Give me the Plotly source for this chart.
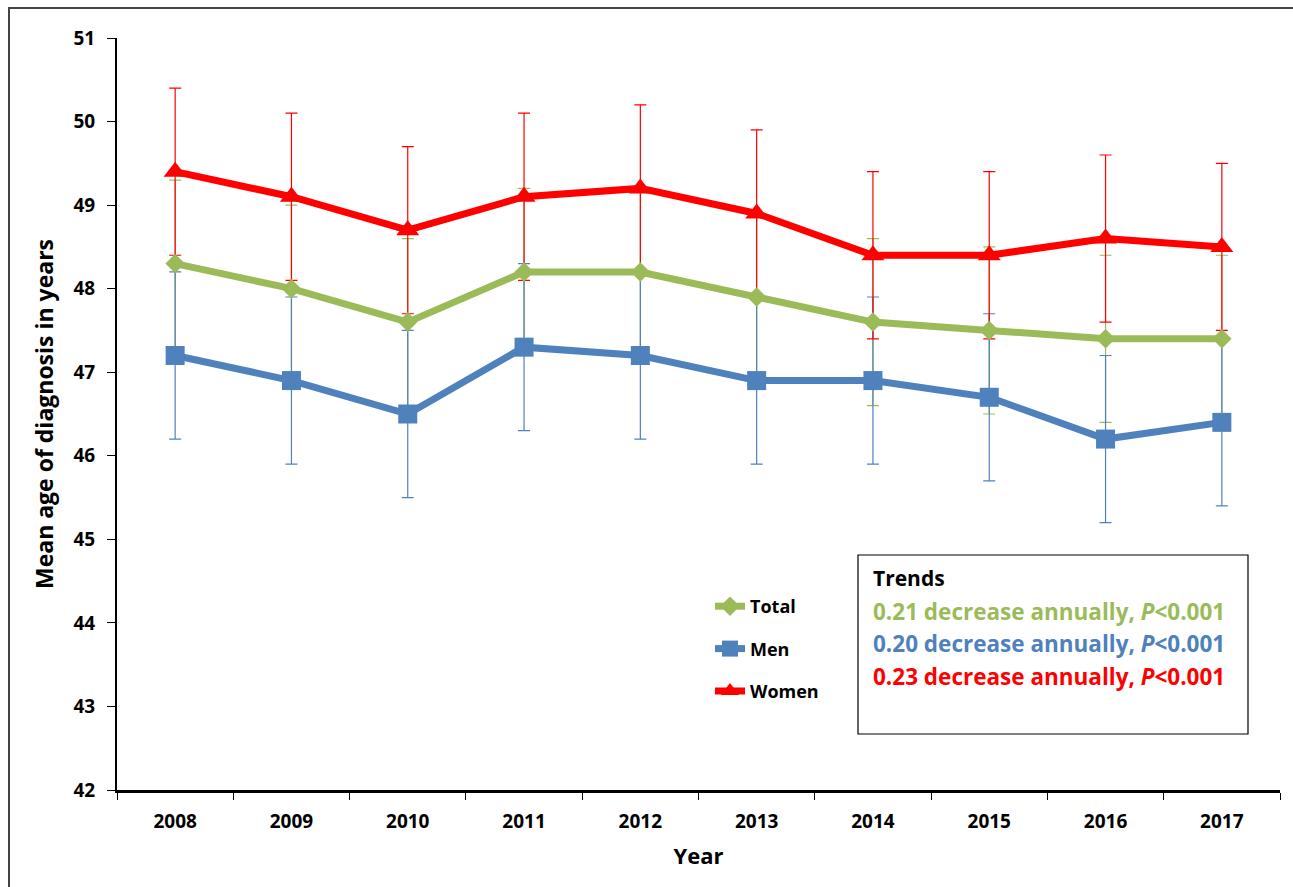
import plotly.graph_objects as go

years = ["2008", "2009", "2010", "2011", "2012", "2013", "2014", "2015", "2016", "2017"]
total = [48.3, 48.0, 47.6, 48.2, 48.2, 47.9, 47.6, 47.5, 47.4, 47.4]
men = [47.2, 46.9, 46.5, 47.3, 47.2, 46.9, 46.9, 46.7, 46.2, 46.4]
women = [49.4, 49.1, 48.7, 49.1, 49.2, 48.9, 48.4, 48.4, 48.6, 48.5]
err_total = [1.0] * 10
err_men = [1.0] * 10
err_women = [1.0] * 10

GREEN = "#9BBB59"
BLUE = "#4F81BD"
RED = "#FF0000"
FONT = "Open Sans"

fig = go.Figure()

# error bars first (behind lines)
for vals, errs, col in [(total, err_total, GREEN), (men, err_men, BLUE), (women, err_women, RED)]:
    fig.add_trace(go.Scatter(
        x=years, y=vals, mode="markers",
        marker=dict(size=1, color="rgba(0,0,0,0)"),
        error_y=dict(type="data", array=errs, visible=True, color=col, thickness=1.2, width=6),
        showlegend=False, hoverinfo="skip",
    ))

series = [
    ("Total", total, GREEN, "diamond", 15),
    ("Men", men, BLUE, "square", 19),
    ("Women", women, RED, "triangle-up", 20),
]
for i, (name, vals, col, sym, sz) in enumerate(series):
    fig.add_trace(go.Scatter(
        x=years, y=vals, mode="lines+markers", name=name,
        line=dict(color=col, width=7),
        marker=dict(symbol=sym, size=sz, color=col),
        legendgroup=name,
    ))

W0, W1 = 117, 1280
H0, H1 = 38, 790
def px(x):
    return (x - W0) / (W1 - W0)
def py(y):
    return (H1 - y) / (H1 - H0)

fig.update_layout(
    width=1293, height=887,
    margin=dict(l=W0, r=1293 - W1, t=H0, b=887 - H1),
    paper_bgcolor="white", plot_bgcolor="white",
    font=dict(family=FONT, color="black"),
    showlegend=True,
    legend=dict(
        x=px(710), y=py(588), xanchor="left", yanchor="top",
        font=dict(family=FONT, size=18, color="black", weight="bold"),
        bgcolor="rgba(0,0,0,0)", tracegroupgap=16, traceorder="grouped",
        itemwidth=30,
    ),
    xaxis=dict(
        type="category", range=[-0.5, 9.5],
        showline=True, linecolor="black", linewidth=3,
        ticks="outside", tickson="boundaries", ticklen=7, tickwidth=1, tickcolor="black",
        tickfont=dict(family=FONT, size=19, color="black", weight="bold"),
        ticklabelstandoff=12,
        showgrid=False, zeroline=False,
        title=dict(text="Year", font=dict(family=FONT, size=22, color="black", weight="bold"), standoff=16),
    ),
    yaxis=dict(
        range=[42, 51], dtick=1, tick0=42,
        showline=True, linecolor="black", linewidth=2,
        ticks="outside", ticklen=8, tickwidth=1, tickcolor="black",
        tickfont=dict(family=FONT, size=19, color="black", weight="bold"),
        ticklabelstandoff=8,
        showgrid=False, zeroline=False,
        title=dict(text="Mean age of diagnosis in years", font=dict(family=FONT, size=23, color="black", weight="bold"), standoff=13),
    ),
    shapes=[
        dict(type="rect", xref="paper", yref="paper",
             x0=px(9), x1=px(1300), y0=py(8), y1=py(900),
             line=dict(color="#444444", width=2), fillcolor="rgba(0,0,0,0)", layer="below"),
        dict(type="rect", xref="paper", yref="paper",
             x0=px(858), x1=px(1248), y0=py(734), y1=py(555),
             line=dict(color="black", width=1.2), fillcolor="white", layer="above"),
    ],
)

ann = [
    ("Trends", "black", 578, 21),
    ("0.21 decrease annually, <i>P</i><0.001", GREEN, 611, 22.5),
    ("0.20 decrease annually, <i>P</i><0.001", BLUE, 643, 22.5),
    ("0.23 decrease annually, <i>P</i><0.001", RED, 676, 22.5),
]
for text, col, yy, fs in ann:
    fig.add_annotation(
        xref="paper", yref="paper", x=px(871), y=py(yy),
        xanchor="left", yanchor="middle", showarrow=False,
        text=text, font=dict(family=FONT, size=fs, color=col, weight="bold"),
    )

fig.write_html("out.html")
